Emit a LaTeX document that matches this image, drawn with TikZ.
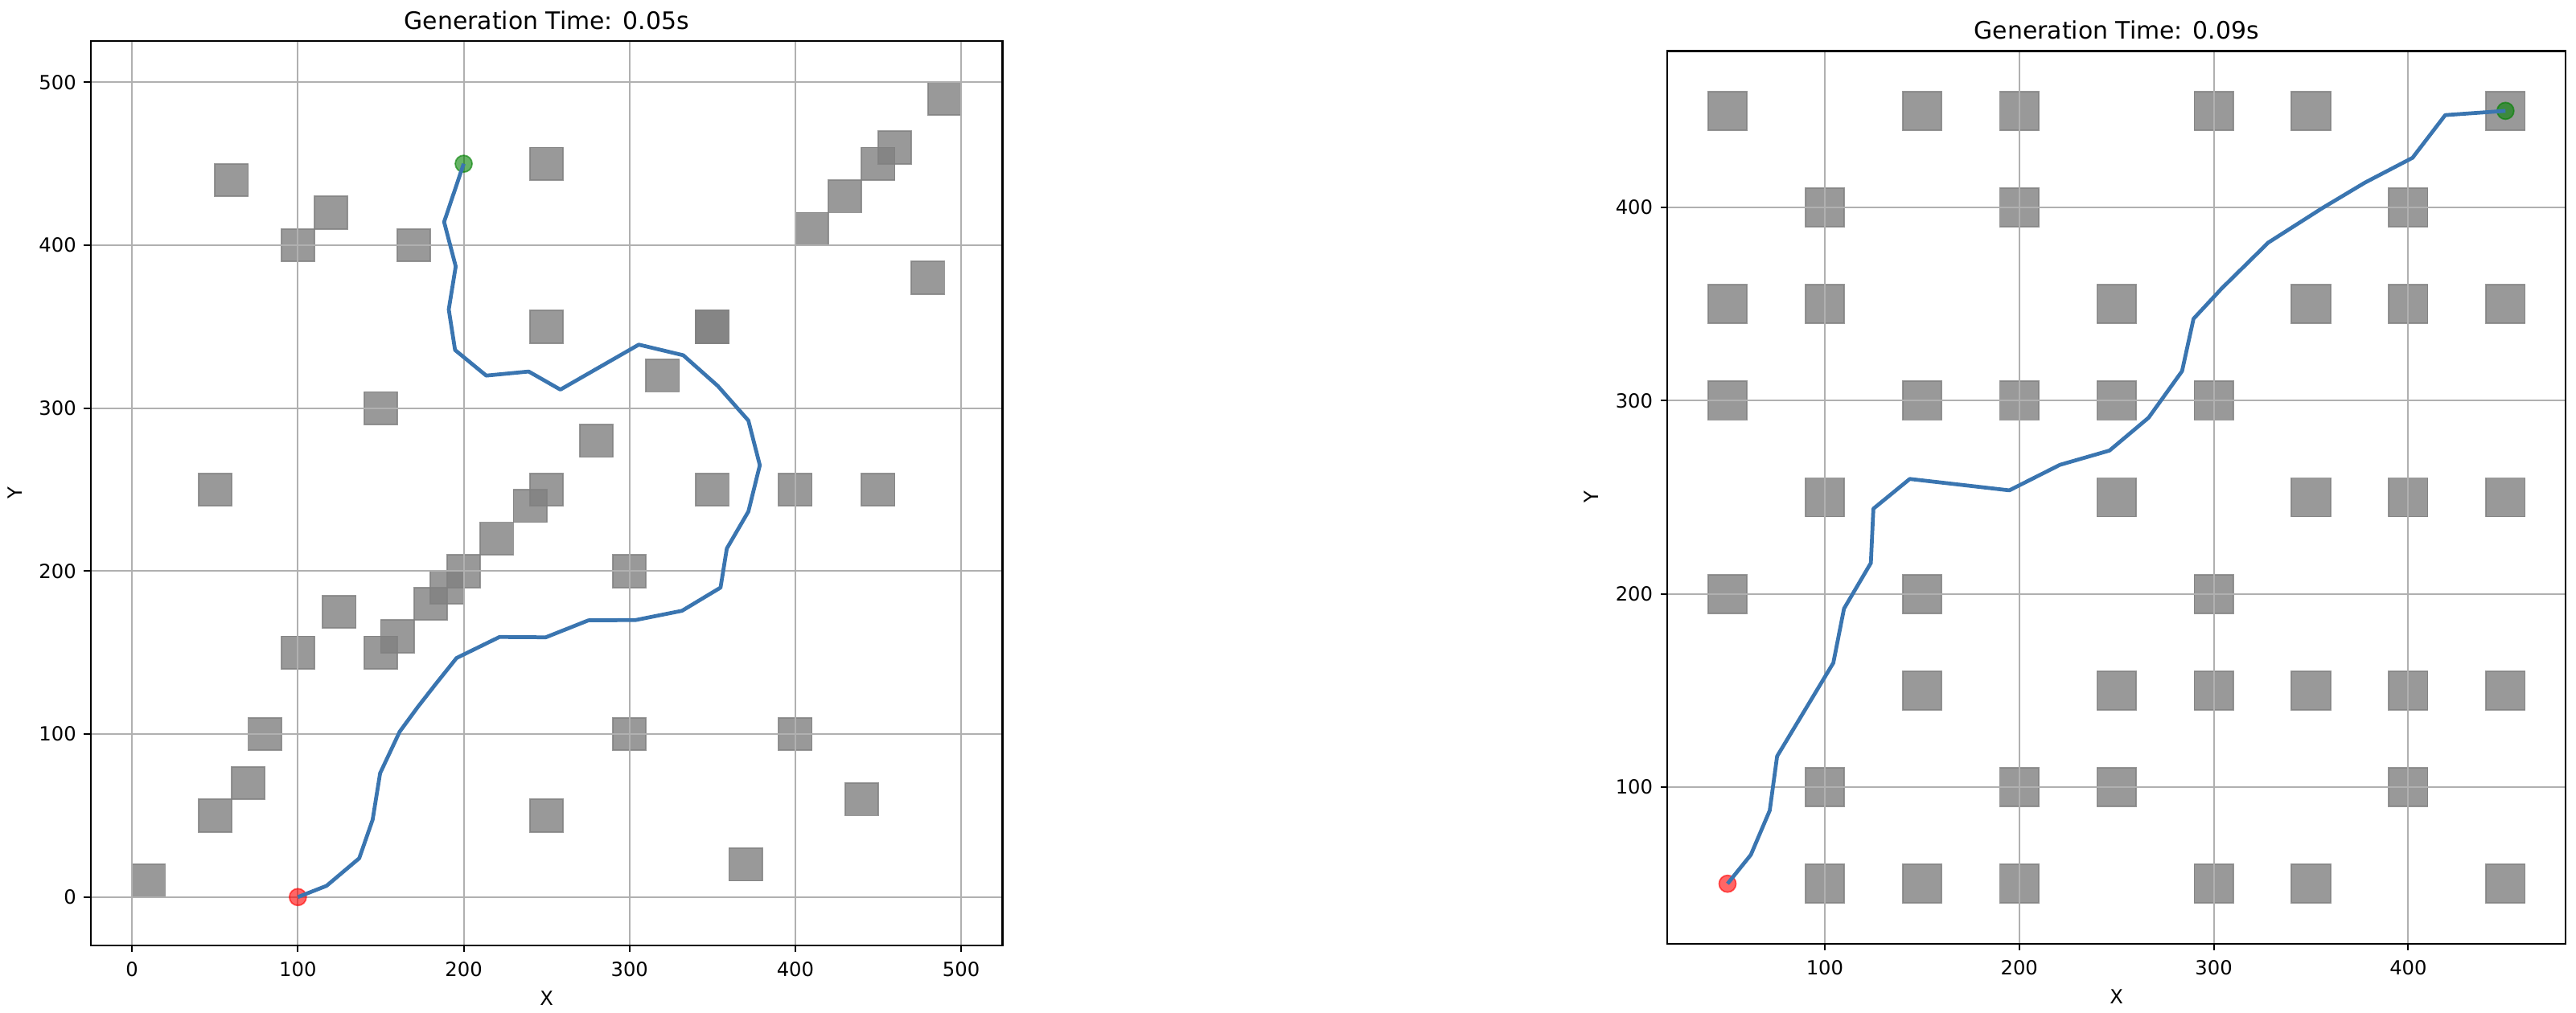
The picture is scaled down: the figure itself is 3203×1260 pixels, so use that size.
\documentclass[tikz,border=0pt]{standalone}
\usepackage{fontspec}
\setmainfont{DejaVu Sans}
\definecolor{routeblue}{RGB}{58,117,176}
\definecolor{gridgray}{RGB}{176,176,176}

\begin{document}
\begin{tikzpicture}[x=0.1mm, y=0.1mm,
	every node/.style={font=\fontsize{6.9}{8}\selectfont, inner sep=0pt},
	obstacle/.style={fill=gray, draw=gray, opacity=0.8, line width=0.5pt},
	gridline/.style={gridgray, line width=0.55pt},
	frame/.style={black, line width=0.65pt},
	tickmark/.style={black, line width=0.55pt},
	route/.style={routeblue, line width=1.35pt, line join=round},
	startpt/.style={circle, minimum size=2.1mm, fill=red, draw=red, line width=0.5pt, opacity=0.6},
	goalpt/.style={circle, minimum size=2.1mm, fill=green!50!black, draw=green!50!black, line width=0.5pt, opacity=0.6},
	titletext/.style={font=\fontsize{8.5}{10}\selectfont, anchor=base}]
	\useasboundingbox (0,0) rectangle (3203,1260);
	\begin{scope}[shift={(16.42mm,14.42mm)}, x=0.20618mm, y=0.2027mm]
		\foreach \ox/\oy in {10/10, 50/50, 70/70, 80/100, 100/150, 125/175, 150/150, 160/160, 180/180,
			190/190, 200/200, 220/220, 240/240, 250/250, 280/280, 300/200, 300/100, 250/50, 370/20,
			400/100, 440/60, 350/250, 400/250, 450/250, 320/320, 350/350, 350/350, 250/350, 250/450,
			150/300, 50/250, 60/440, 120/420, 100/400, 170/400, 410/410, 430/430, 450/450, 460/460,
			490/490, 480/380}
			\draw[obstacle] (\ox-10,\oy-10) rectangle ++(20,20);
		\foreach \t in {0,100,...,500} {
			\draw[gridline] (\t,-29.7) -- (\t,525.4);
			\draw[gridline] (-25,\t) -- (525,\t);
			\draw[tickmark] (\t,-29.7) -- ++(0pt,-0.84mm) node[anchor=north, yshift=-1.16mm] (lx\t) {\t};
			\draw[tickmark] (-25,\t) -- ++(-0.84mm,0pt) node[anchor=east, xshift=-0.86mm] (ly\t) {\t};
		}
		\draw[frame] (-25,-29.7) rectangle (525,525.4);
		\node[titletext, yshift=1.44mm] (title1) at (250,525.4) {Generation Time: 0.05s};
		\node[anchor=north, yshift=-5.6mm] (xlabel1) at (250,-29.7) {X};
		\node[rotate=90] (ylabel1) at (-70.8,247.85) {Y};
		\node[startpt] (start1) at (100,0) {};
		\node[goalpt] (goal1) at (200,450) {};
		\draw[route] (start1.center) -- (117.3,6.9) -- (137,23.8) -- (145.1,47.5) -- (149.6,76)
			-- (161.4,101.5) -- (172.3,116.6) -- (182.8,130.3) -- (195.7,146.7) -- (221.6,159.6)
			-- (249.5,159.4) -- (275.2,169.8) -- (303.7,170) -- (331.7,175.7) -- (354.9,189.9)
			-- (358.7,213.9) -- (371.7,236.6) -- (378.6,265) -- (371.7,292.4) -- (353.3,313.6)
			-- (332.4,332.5) -- (305.6,339) -- (258.3,311.4) -- (239.2,322.5) -- (213.6,320)
			-- (194.8,335.7) -- (191,360.6) -- (195.2,387) -- (188.2,414.3) -- (goal1.center);
	\end{scope}
	\begin{scope}[shift={(202.71mm,4.06mm)}, x=0.24183mm, y=0.24034mm]
		\foreach \oy/\row in {450/{50,150,200,300,350,450}, 400/{100,200,400},
			350/{50,100,250,350,400,450}, 300/{50,150,200,250,300}, 250/{100,250,350,400,450},
			200/{50,150,300}, 150/{150,250,300,350,400,450}, 100/{100,200,250,400},
			50/{100,150,200,300,350,450}}
			\foreach \ox in \row
				\draw[obstacle] (\ox-10,\oy-10) rectangle ++(20,20);
		\foreach \t in {100,200,...,400} {
			\draw[gridline] (\t,19) -- (\t,481);
			\draw[gridline] (19,\t) -- (481,\t);
			\draw[tickmark] (\t,19) -- ++(0pt,-0.84mm) node[anchor=north, yshift=-1.16mm] (rx\t) {\t};
			\draw[tickmark] (19,\t) -- ++(-0.84mm,0pt) node[anchor=east, xshift=-0.86mm] (ry\t) {\t};
		}
		\draw[frame] (19,19) rectangle (481,481);
		\node[titletext, yshift=1.44mm] (title2) at (250,481) {Generation Time: 0.09s};
		\node[anchor=north, yshift=-5.6mm] (xlabel2) at (250,19) {X};
		\node[rotate=90] (ylabel2) at (-20.2,250) {Y};
		\node[startpt] (start2) at (50,50) {};
		\node[goalpt] (goal2) at (450,450) {};
		\draw[route] (start2.center) -- (62,65) -- (71.7,87.9) -- (75.5,116) -- (104.4,164.3)
			-- (109.9,192.4) -- (123.7,216) -- (125,244.1) -- (143.7,259.5) -- (194.9,253.6)
			-- (220.9,266.8) -- (246.4,274.2) -- (266.5,291.2) -- (283.7,315.3) -- (289.6,342.4)
			-- (304,358) -- (328,381.8) -- (355.7,399.6) -- (377.8,412.9) -- (402.2,425.7)
			-- (419,447.8) -- (goal2.center);
	\end{scope}
\end{tikzpicture}
\end{document}
